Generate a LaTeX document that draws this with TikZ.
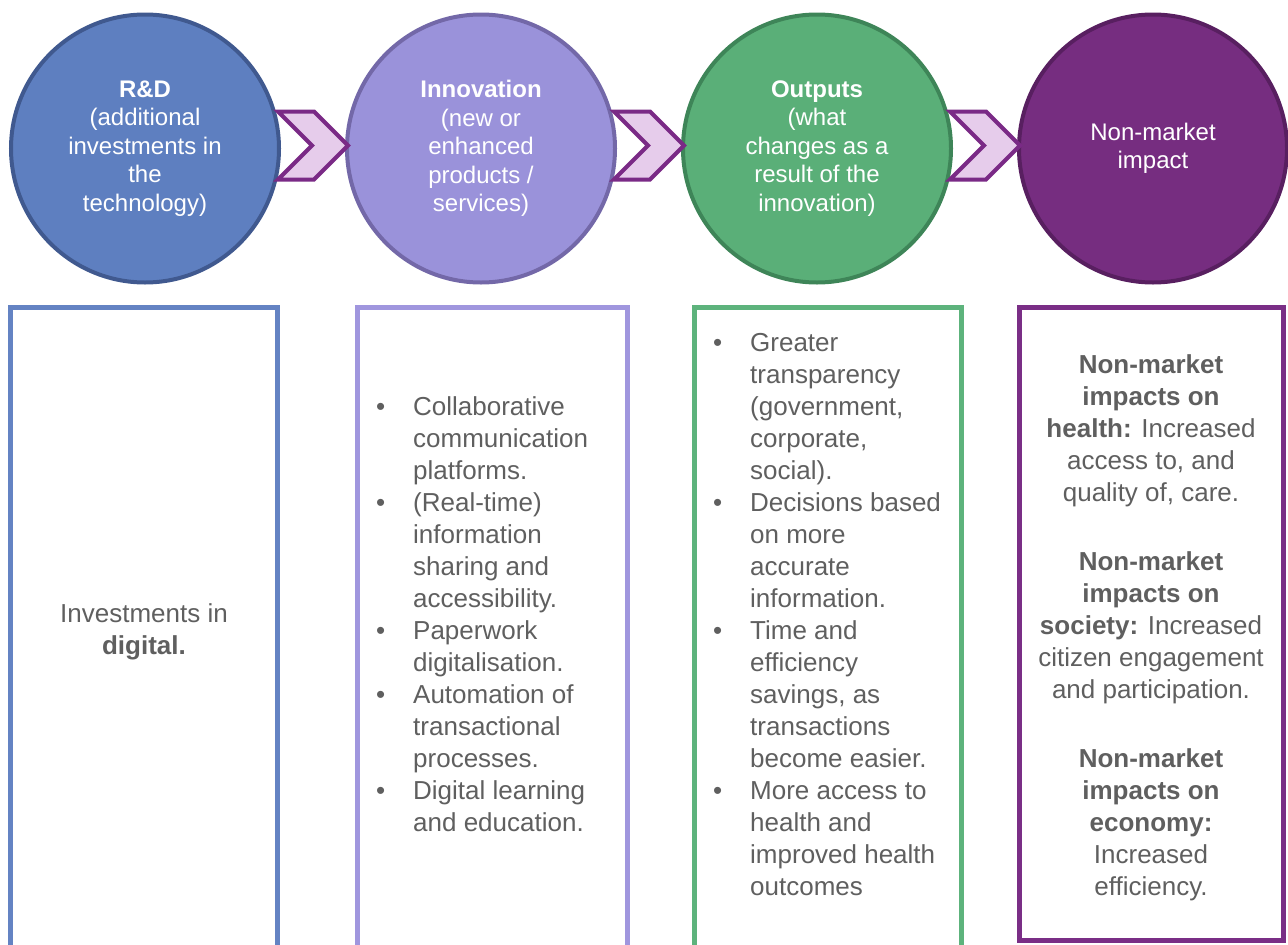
\documentclass[tikz,border=0pt]{standalone}
\usepackage{fontspec}
\setmainfont{Liberation Sans}
\usepackage{xcolor}
\usepackage{tikz}
\usetikzlibrary{positioning}
\definecolor{rdfill}{HTML}{5E7FC0}
\definecolor{rdline}{HTML}{40598F}
\definecolor{innofill}{HTML}{9A92DA}
\definecolor{innoline}{HTML}{7368A8}
\definecolor{outpfill}{HTML}{5AAF78}
\definecolor{outpline}{HTML}{3E8558}
\definecolor{nonmfill}{HTML}{762D80}
\definecolor{nonmline}{HTML}{581F60}
\definecolor{rdbox}{HTML}{6483C3}
\definecolor{innobox}{HTML}{A096DE}
\definecolor{outpbox}{HTML}{5DB37C}
\definecolor{nonmbox}{HTML}{7A2E86}
\definecolor{chevfill}{HTML}{E6CCEB}
\definecolor{chevline}{HTML}{7A2A86}
\definecolor{txtgrey}{HTML}{5F5F5F}

\begin{document}
\begin{tikzpicture}[x=1pt,y=-1pt,
  stage/.style={circle,minimum size=268pt,inner sep=0pt,line width=4pt,text=white,align=center,font=\fontsize{24}{28.5}\selectfont},
  box/.style={rectangle,line width=5pt,anchor=north west,inner sep=0pt,outer sep=0pt},
  chevron/.style={fill=chevfill,draw=chevline,line width=4pt},
  boxtext/.style={inner sep=0pt,text=txtgrey,font=\fontsize{26}{32}\selectfont}]
\useasboundingbox (0,0) rectangle (1288,945);
\node [stage,fill=rdfill,draw=rdline] at (145,148.5) (rd) {\textbf{R\&D}\\(additional\\investments in\\the\\technology)};
\node [stage,fill=innofill,draw=innoline,right=64pt of rd] (inno) {\textbf{Innovation}\\(new or\\enhanced\\products /\\services)};
\node [stage,fill=outpfill,draw=outpline,right=64pt of inno] (outp) {\textbf{Outputs}\\(what\\changes as a\\result of the\\innovation)};
\node [stage,fill=nonmfill,draw=nonmline,right=64pt of outp] (nonm) {Non-market\\impact};
\coordinate (ch1) at ([xshift=-3pt,yshift=3pt]rd.east);
\coordinate (ch2) at ([xshift=-3pt,yshift=3pt]inno.east);
\coordinate (ch3) at ([xshift=-3pt,yshift=3pt]outp.east);
\foreach \c in {ch1,ch2,ch3}
  \draw [chevron] (\c) ++(0,-34) -- ++(36,0) -- ++(34,34) -- ++(-34,34) -- ++(-36,0) -- ++(34,-34) -- cycle;
\node [box,draw=rdbox,minimum width=267.5pt,minimum height=650pt] at (10,307.5) (rdcol) {};
\node [box,draw=innobox,minimum width=270pt,minimum height=650pt] at (357,307.5) (innocol) {};
\node [box,draw=outpbox,minimum width=267pt,minimum height=650pt] at (694,307.5) (outpcol) {};
\node [box,draw=nonmbox,minimum width=264pt,minimum height=633pt] at (1019,307.5) (nonmcol) {};
\node [boxtext,anchor=base] at (144,622) (rdtext) {\begin{tabular}[t]{@{}c@{}}Investments in\\\textbf{digital.}\end{tabular}};
\node [boxtext,anchor=base west] at (376,415) (innotext) {\begin{tabular}[t]{@{}p{37pt}@{}l@{}}
\textbullet & Collaborative\\
 & communication\\
 & platforms.\\
\textbullet & (Real-time)\\
 & information\\
 & sharing and\\
 & accessibility.\\
\textbullet & Paperwork\\
 & digitalisation.\\
\textbullet & Automation of\\
 & transactional\\
 & processes.\\
\textbullet & Digital learning\\
 & and education.
\end{tabular}};
\node [boxtext,anchor=base west] at (713,351.5) (outptext) {\begin{tabular}[t]{@{}p{37pt}@{}l@{}}
\textbullet & Greater\\
 & transparency\\
 & (government,\\
 & corporate,\\
 & social).\\
\textbullet & Decisions based\\
 & on more\\
 & accurate\\
 & information.\\
\textbullet & Time and\\
 & efficiency\\
 & savings, as\\
 & transactions\\
 & become easier.\\
\textbullet & More access to\\
 & health and\\
 & improved health\\
 & outcomes
\end{tabular}};
\node [boxtext,anchor=base] at (1151,373) (nonmtext) {\begin{tabular}[t]{@{}c@{}}
\textbf{Non-market}\\
\textbf{impacts on}\\
\textbf{health:} Increased\\
access to, and\\
quality of, care.\\[37pt]
\textbf{Non-market}\\
\textbf{impacts on}\\
\textbf{society:} Increased\\
citizen engagement\\
and participation.\\[37pt]
\textbf{Non-market}\\
\textbf{impacts on}\\
\textbf{economy:}\\
Increased\\
efficiency.
\end{tabular}};
\end{tikzpicture}
\end{document}
